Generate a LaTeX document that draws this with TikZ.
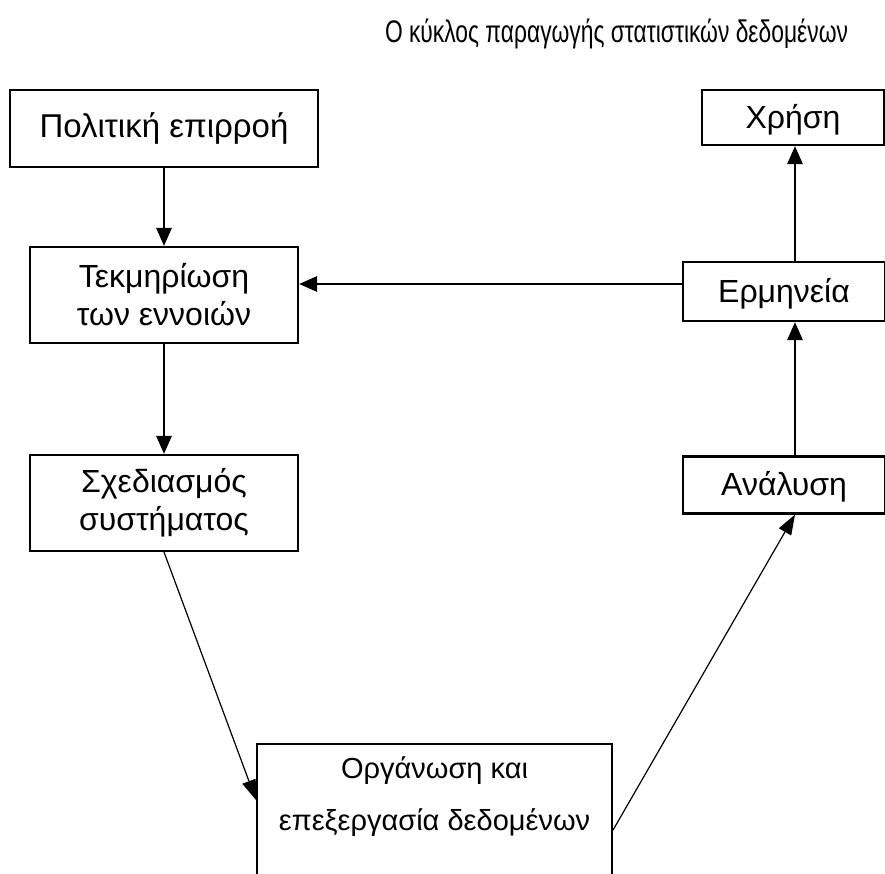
\documentclass[tikz,border=0pt]{standalone}
\usepackage{fontspec}
\usepackage{graphicx}
\setmainfont{Liberation Sans}
\usetikzlibrary{arrows.meta,calc}
\begin{document}
\begin{tikzpicture}[x=1pt,y=-1pt,
  box/.style={draw, line width=2.1pt, inner sep=0pt, align=center, font=\fontsize{32}{38}\selectfont},
  thickarrow/.style={line width=2.8pt, -{Triangle[length=18pt,width=15pt]}},
  thinarrow/.style={line width=1.2pt, -{Triangle[length=20pt,width=14pt]}}]
\useasboundingbox (0,0) rectangle (885,874);
\clip (0,0) rectangle (885,874);
\fill[white] (0,0) rectangle (885,874);
\coordinate (v) at (795,0);
\coordinate (h) at (0,284);
\node[font=\fontsize{24}{28}\selectfont, inner sep=0pt] (title) at (616.5,34) {\resizebox*{463pt}{30pt}{Ο κύκλος παραγωγής στατιστικών δεδομένων}};
\node[box, minimum width=308, minimum height=77, font=\fontsize{33}{38}\selectfont] (pol) at (164,128.5) {Πολιτική επιρροή};
\node[box, minimum width=268, minimum height=96] (tek) at (164,295) {Τεκμηρίωση\\των εννοιών};
\node[box, minimum width=268, minimum height=96] (sys) at (164,503) {Σχεδιασμός\\συστήματος};
\node[box, minimum width=182, minimum height=55, text depth=3pt] (xrisi) at (793,117.5) {Χρήση};
\node[box, minimum width=202, minimum height=59, text depth=3pt] (erm) at (784,291.5) {Ερμηνεία};
\node[box, minimum width=202, minimum height=57, text depth=3pt] (anal) at (784,485) {Ανάλυση};
\node[box, minimum width=355, minimum height=200, anchor=north] (org) at (434.5,743) {};
\node[font=\fontsize{29}{33}\selectfont, align=center, inner sep=0pt] (orgtext) at (434.5,797) {Οργάνωση και\\[19pt]επεξεργασία δεδομένων};
\draw[thickarrow] (pol.south) -- (tek.north);
\draw[thickarrow] (tek.south) -- (sys.north);
\draw[thickarrow] (erm.west |- h) -- (tek.east |- h);
\draw[thickarrow] (erm.north -| v) -- (xrisi.south -| v);
\draw[thickarrow] (anal.north -| v) -- (erm.south -| v);
\draw[thinarrow] (sys.south) -- ($(org.north west)+(0,57)$);
\draw[thinarrow] ($(org.north east)+(0,87)$) -- (anal.south -| v);
\end{tikzpicture}
\end{document}
